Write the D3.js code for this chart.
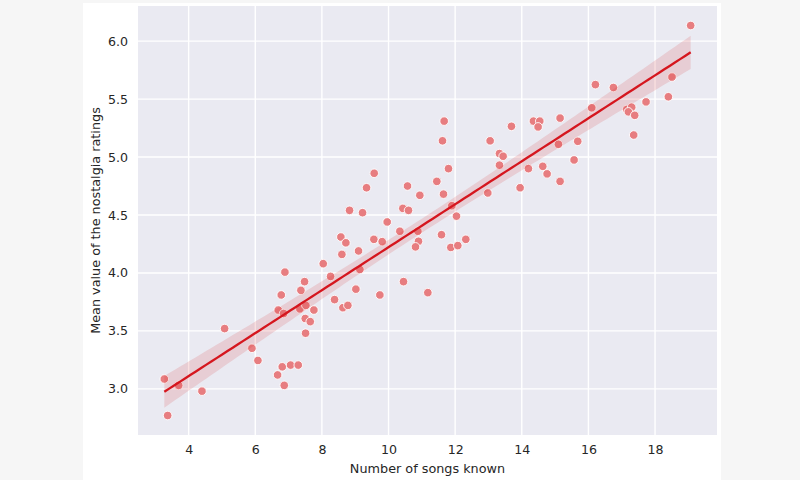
<!DOCTYPE html>
<html lang="en">
<head>
<meta charset="utf-8">
<title>Nostalgia ratings vs number of songs known</title>
<style>
  body { margin: 0; background: #f6f6f6; }
  svg { display: block; }
  svg text { font-family: "DejaVu Sans", sans-serif; fill: #262626; }
</style>
</head>
<body>
<script src="https://d3js.org/d3.v7.min.js"></script>
<script>
// values
const songsKnown = [
  3.27, 3.70, 3.37, 4.40, 5.08, 5.90, 6.08, 6.67, 6.81, 6.87,
  7.06, 7.29, 6.89, 6.78, 6.69, 6.85, 7.37, 7.48, 8.04, 8.26,
  8.38, 8.63, 8.78, 7.34, 7.52, 7.76, 7.50, 7.65, 7.51, 8.57,
  8.72, 8.60, 13.33, 11.80, 11.45, 11.65, 10.57, 10.94, 9.57, 9.34,
  8.83, 9.22, 10.43, 10.60, 9.96, 10.34, 10.88, 12.04, 12.98, 11.59,
  11.87, 12.08, 12.32, 10.90, 10.81, 9.56, 9.81, 9.10, 9.14, 10.45,
  9.02, 9.74, 11.18, 16.21, 16.75, 18.51, 18.40, 17.73, 16.10, 17.15,
  17.30, 17.20, 17.39, 17.36, 15.15, 14.35, 14.54, 14.49, 13.69, 13.05,
  13.33, 13.44, 15.10, 15.68, 15.57, 14.20, 14.63, 14.76, 15.15, 13.95,
  19.07, 11.67, 11.62, 11.90
];
const nostalgia = [
  3.085, 3.03, 2.77, 2.98, 3.52, 3.35, 3.245, 3.12, 3.19, 3.03,
  3.205, 3.205, 4.007, 3.81, 3.68, 3.65, 3.85, 3.925, 4.08, 3.97,
  3.77, 3.70, 3.72, 3.69, 3.72, 3.68, 3.607, 3.58, 3.48, 4.31,
  4.26, 4.16, 4.93, 4.90, 4.79, 4.68, 4.75, 4.67, 4.86, 4.735,
  4.54, 4.52, 4.557, 4.54, 4.44, 4.36, 4.36, 4.49, 4.69, 4.33,
  4.22, 4.236, 4.29, 4.273, 4.225, 4.29, 4.27, 4.19, 4.03, 3.925,
  3.86, 3.81, 3.83, 5.625, 5.60, 5.69, 5.52, 5.476, 5.425, 5.41,
  5.43, 5.39, 5.36, 5.19, 5.336, 5.31, 5.31, 5.26, 5.265, 5.14,
  5.03, 5.007, 5.11, 5.136, 4.975, 4.90, 4.92, 4.855, 4.79, 4.735,
  6.135, 5.31, 5.14, 4.58
];
const xTicks = [4, 6, 8, 10, 12, 14, 16, 18];
const yTicks = [3.0, 3.5, 4.0, 4.5, 5.0, 5.5, 6.0];
const xLabel = "Number of songs known";
const yLabel = "Mean value of the nostalgia ratings";

const width = 800;
const height = 480;
const margin = { top: 6, right: 83, bottom: 45, left: 138 };

const points = songsKnown.map((x, i) => ({ x, y: nostalgia[i] }));

// padded like matplotlib's autoscale (5% each side)
function padded(values) {
  const [lo, hi] = d3.extent(values);
  const pad = (hi - lo) * 0.05;
  return [lo - pad, hi + pad];
}

const x = d3.scaleLinear()
  .domain(padded(songsKnown))
  .range([margin.left, width - margin.right]);
const y = d3.scaleLinear()
  .domain(padded(nostalgia))
  .range([height - margin.bottom, margin.top]);

// least squares fit and 95% band for the mean
const n = points.length;
const xMean = d3.mean(songsKnown);
const yMean = d3.mean(nostalgia);
const sxx = d3.sum(songsKnown, v => (v - xMean) ** 2);
const sxy = d3.sum(points, p => (p.x - xMean) * (p.y - yMean));
const slope = sxy / sxx;
const intercept = yMean - slope * xMean;
const resid = Math.sqrt(d3.sum(points, p => (p.y - intercept - slope * p.x) ** 2) / (n - 2));
const tCrit = 1.986;

const [xMin, xMax] = d3.extent(songsKnown);
const fit = d3.range(0, 101).map(i => {
  const xv = xMin + (xMax - xMin) * i / 100;
  const yv = intercept + slope * xv;
  const se = resid * Math.sqrt(1 / n + (xv - xMean) ** 2 / sxx);
  return { x: xv, y: yv, lo: yv - tCrit * se, hi: yv + tCrit * se };
});

const svg = d3.select("body").append("svg")
  .attr("width", width)
  .attr("height", height);

// white figure panel
svg.append("rect")
  .attr("x", 83).attr("y", 3)
  .attr("width", 638).attr("height", height - 3)
  .attr("fill", "#ffffff");

// axes background
svg.append("rect")
  .attr("x", margin.left).attr("y", margin.top)
  .attr("width", width - margin.left - margin.right)
  .attr("height", height - margin.top - margin.bottom)
  .attr("fill", "#eaeaf2");

// grid
svg.append("g")
  .attr("stroke", "#ffffff")
  .attr("stroke-width", 1.4)
  .call(g => g.selectAll(".vx").data(xTicks).join("line")
    .attr("x1", d => x(d)).attr("x2", d => x(d))
    .attr("y1", margin.top).attr("y2", height - margin.bottom))
  .call(g => g.selectAll(".hy").data(yTicks).join("line")
    .attr("x1", margin.left).attr("x2", width - margin.right)
    .attr("y1", d => y(d)).attr("y2", d => y(d)));

// tick labels through d3 axes, no tick marks or domain
const xAxis = svg.append("g")
  .attr("transform", `translate(0,${height - margin.bottom})`)
  .call(d3.axisBottom(x).tickValues(xTicks).tickSize(0).tickPadding(10).tickFormat(d3.format("d")));
const yAxis = svg.append("g")
  .attr("transform", `translate(${margin.left},0)`)
  .call(d3.axisLeft(y).tickValues(yTicks).tickSize(0).tickPadding(10).tickFormat(d3.format(".1f")));
[xAxis, yAxis].forEach(a => {
  a.select(".domain").remove();
  a.selectAll("text").attr("font-size", 12.6).attr("font-family", "DejaVu Sans, sans-serif").attr("fill", "#262626");
});

svg.append("text")
  .attr("x", (margin.left + width - margin.right) / 2)
  .attr("y", height - 7)
  .attr("text-anchor", "middle")
  .attr("font-size", 12.8)
  .text(xLabel);

svg.append("text")
  .attr("transform", `translate(99.5,${(margin.top + height - margin.bottom) / 2}) rotate(-90)`)
  .attr("text-anchor", "middle")
  .attr("font-size", 12.8)
  .text(yLabel);

// scatter
svg.append("g")
  .selectAll("circle")
  .data(points)
  .join("circle")
  .attr("cx", d => x(d.x))
  .attr("cy", d => y(d.y))
  .attr("r", 4.3)
  .attr("fill", "#e77d80")
  .attr("stroke", "#ffffff")
  .attr("stroke-width", 0.9);

// confidence band
svg.append("path")
  .datum(fit)
  .attr("fill", "#d62728")
  .attr("fill-opacity", 0.15)
  .attr("d", d3.area().x(d => x(d.x)).y0(d => y(d.lo)).y1(d => y(d.hi)));

// regression line
svg.append("path")
  .datum(fit)
  .attr("fill", "none")
  .attr("stroke", "#d5161e")
  .attr("stroke-width", 2.3)
  .attr("d", d3.line().x(d => x(d.x)).y(d => y(d.y)));
</script>
</body>
</html>
